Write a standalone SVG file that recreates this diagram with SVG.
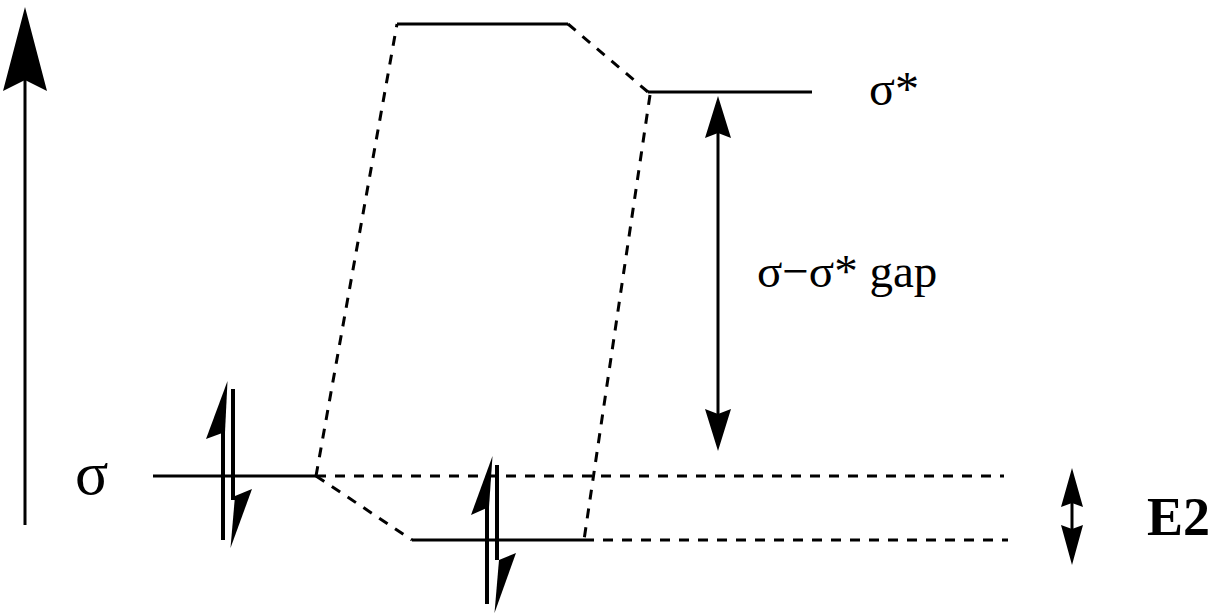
<svg xmlns="http://www.w3.org/2000/svg" width="1214" height="616" viewBox="0 0 1214 616">
<style>
.s{stroke:#000;stroke-width:3;fill:none}
.e{stroke:#000;stroke-width:4;fill:none}
.d{stroke:#000;stroke-width:3;fill:none;stroke-dasharray:10 9}
.h{fill:#000;stroke:none}
.t{font-family:"Liberation Serif","Times New Roman",serif;fill:#000}
</style>
<rect width="1214" height="616" fill="#fff"/>
<g id="connectors">
<path class="d" d="M316,476 L397,24"/>
<path class="d" d="M568,24 L648,92"/>
<path class="d" d="M650,95 L584,540"/>
<path class="d" d="M316,476 L412,540"/>
<path class="d" d="M316,476 L1004,476"/>
<path class="d" d="M584,540 L1008,540"/>
</g>
<g id="energy-axis">
<line class="s" x1="25" y1="525" x2="25" y2="80"/>
<path class="h" d="M25,7 L47,91 L25,80 L3,91 Z"/>
</g>
<g id="level-sigma">
<line class="s" x1="153" y1="476" x2="316" y2="476"/>
<text class="t" x="75" y="494" font-size="62">σ</text>
</g>
<g id="electrons-sigma">
<line class="e" x1="223" y1="540" x2="223" y2="425"/>
<path class="h" d="M227.5,381 L206,439 L225,432 Z"/>
<line class="e" x1="233" y1="389" x2="233" y2="500"/>
<path class="h" d="M230.5,548 L252,489 L235,496 Z"/>
</g>
<g id="level-top">
<line class="s" x1="397" y1="24" x2="568" y2="24"/>
</g>
<g id="level-sigma-star">
<line class="s" x1="648" y1="92" x2="812" y2="92"/>
<text class="t" x="869" y="105" font-size="48">σ*</text>
</g>
<g id="level-bottom">
<line class="s" x1="412" y1="540" x2="584" y2="540"/>
</g>
<g id="electrons-bottom">
<line class="e" x1="487" y1="604" x2="487" y2="505"/>
<path class="h" d="M492.5,456 L471,515 L489,507 Z"/>
<line class="e" x1="497" y1="465" x2="497" y2="560"/>
<path class="h" d="M494.5,613 L516,553 L499,560 Z"/>
</g>
<g id="gap">
<line class="s" x1="718" y1="130" x2="718" y2="418"/>
<path class="h" d="M718,96 L731,138 L718,133 L705,138 Z"/>
<path class="h" d="M718,451 L731,409 L718,414 L705,409 Z"/>
<text class="t" x="757" y="287" font-size="47">σ−σ* gap</text>
</g>
<g id="e2">
<line class="s" x1="1072" y1="500" x2="1072" y2="532"/>
<path class="h" d="M1072,468 L1083,507 L1072,503 L1061,507 Z"/>
<path class="h" d="M1072,565 L1083,525 L1072,529 L1061,525 Z"/>
<text class="t" x="1147" y="535" font-size="54" font-weight="bold">E2</text>
</g>
</svg>
